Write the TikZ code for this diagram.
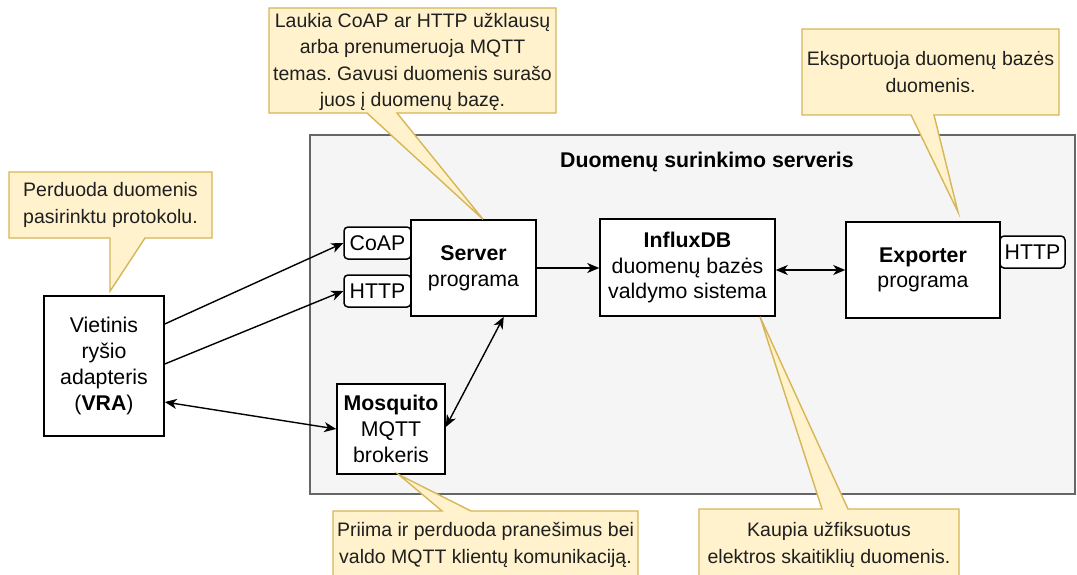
\documentclass[tikz,border=0pt]{standalone}
\usepackage{fontspec}
\setmainfont{Liberation Sans}
\usetikzlibrary{arrows.meta,calc}
\definecolor{notefill}{HTML}{FFF2CC}
\definecolor{notedraw}{HTML}{D6B656}
\definecolor{groupfill}{HTML}{F5F5F5}
\definecolor{groupdraw}{HTML}{666666}
\newcommand\dfont{\fontsize{19.5}{26.2}\selectfont}
\newcommand\bfont{\fontsize{21.3}{25.7}\selectfont}
\frenchspacing
\begin{document}
\begin{tikzpicture}[x=1pt,y=-1pt,
 box/.style={draw=black, line width=1.5pt, fill=white, inner sep=0pt, align=center, font=\bfont, text=black},
 tag/.style={box, rounded corners=4pt},
 group/.style={draw=groupdraw, fill=groupfill, line width=1.4pt},
 note/.style={fill=notefill, draw=notedraw, line width=1.4pt, line join=miter},
 notetext/.style={inner sep=0pt, align=center, font=\dfont\frenchspacing, text=black!88},
 conn/.style={line width=1.4pt, -{Stealth[length=12pt,width=10pt,inset=3.5pt]}},
 conn2/.style={line width=1.4pt, {Stealth[length=12pt,width=10pt,inset=3.5pt]}-{Stealth[length=12pt,width=10pt,inset=3.5pt]}},
]
\useasboundingbox (0,0) rectangle (1077,574);
\clip (0,0) rectangle (1077,574);

% group
\node[group, minimum width=765, minimum height=359, inner sep=0pt] (grp) at (692.5,314.5) {};
\node[font=\bfont\bfseries, inner sep=0pt] (title) at (707,162) {Duomenų surinkimo serveris};

% boxes
\node[box, minimum width=120, minimum height=140] (vra) at (104,366) {Vietinis\\ryšio\\adapteris\\(\textbf{VRA})};
\node[tag, minimum width=67, minimum height=32] (coap) at (377.5,243) {CoAP};
\node[tag, minimum width=67, minimum height=32] (http) at (377.5,291) {HTTP};
\node[box, minimum width=125, minimum height=96] (server) at (473.5,268) {\textbf{Server}\\programa};
\node[box, minimum width=108, minimum height=90] (mos) at (391,429) {\textbf{Mosquito}\\MQTT\\brokeris};
\node[box, minimum width=175, minimum height=97] (influx) at (687.5,267.5) {\textbf{InfluxDB}\\duomenų bazės\\valdymo sistema};
\node[box, minimum width=154, minimum height=96] (exp) at (923,270) {\textbf{Exporter}\\programa};
\node[tag, minimum width=65, minimum height=32] (http2) at (1032.5,252) {HTTP};

% callout tips
\coordinate (tA) at ([xshift=9.5]server.north);
\coordinate (tB) at ([xshift=6,yshift=4]vra.north);
\coordinate (tC) at (958,212);
\coordinate (tD) at ([xshift=8]mos.south);
\coordinate (tE) at ([xshift=72.5]influx.south);

% callouts
\draw[note] (269,8) -- (556,8) -- (556,113) -- (397,113) -- (tA) -- (367,113) -- (269,113) -- cycle;
\node[notetext] (nA) at (412.5,62) {Laukia CoAP ar HTTP užklausų\\arba prenumeruoja MQTT\\temas. Gavusi duomenis surašo\\juos į duomenų bazę.};

\draw[note] (9,172) -- (212,172) -- (212,238) -- (145,238) -- (tB) -- (110,238) -- (9,238) -- cycle;
\node[notetext] (nB) at (110.5,205) {Perduoda duomenis\\pasirinktu protokolu.};

\draw[note] (802,29) -- (1059,29) -- (1059,115) -- (934,115) -- (tC) -- (911,115) -- (802,115) -- cycle;
\node[notetext] (nC) at (930.5,72) {Eksportuoja duomenų bazės\\duomenis.};

\draw[note] (333,511) -- (442,511) -- (tD) -- (471,511) -- (638,511) -- (638,590) -- (333,590) -- cycle;
\node[notetext] (nD) at (485.5,545) {Priima ir perduoda pranešimus bei\\valdo MQTT klientų komunikaciją.};

\draw[note] (699,509) -- (822,509) -- (tE) -- (848,509) -- (959,509) -- (959,590) -- (699,590) -- cycle;
\node[notetext] (nE) at (829,545) {Kaupia užfiksuotus\\elektros skaitiklių duomenis.};

% connectors
\draw[conn] ([yshift=42]vra.east) -- (coap.west);
\draw[conn] ([yshift=2]vra.east) -- (http.west);
\draw[conn2] ([yshift=-36]vra.east) -- (mos.west);
\draw[conn] (server.east) -- (server.east -| influx.west);
\draw[conn2] ([yshift=2]mos.east) -- ([xshift=-33]server.south east);
\draw[conn2] (exp.west -| influx.east) -- (exp.west);
\end{tikzpicture}
\end{document}
